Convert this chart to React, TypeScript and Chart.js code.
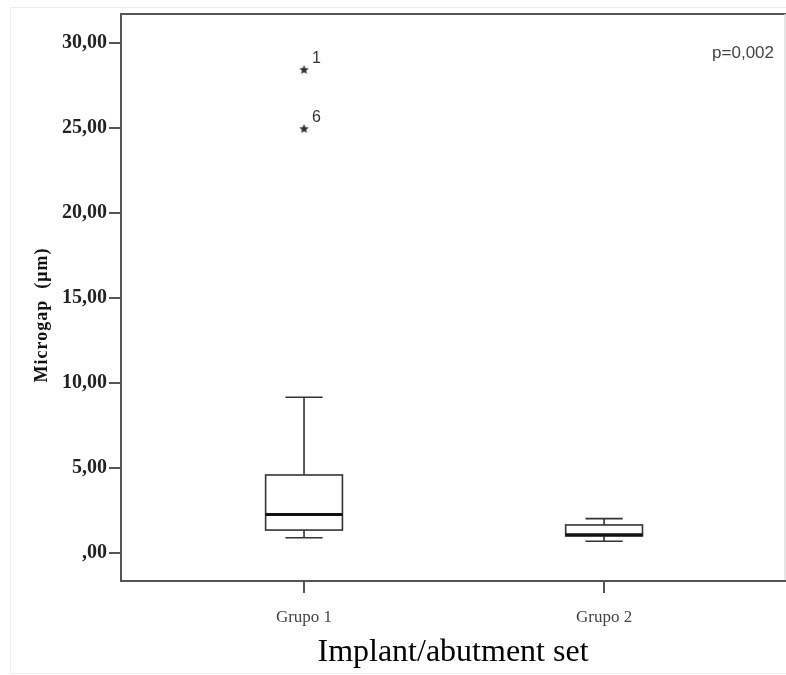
import React, { useEffect, useRef } from "react";
import { Chart, registerables } from "chart.js";

Chart.register(...registerables);

// ---- Data ----
const categories = ["Grupo 1", "Grupo 2"];
const whiskerLow = [0.9, 0.69];
const quartile1 = [1.35, 1.0];
const medians = [2.27, 1.08];
const quartile3 = [4.59, 1.65];
const whiskerHigh = [9.16, 2.02];
const outlierGroup = [1, 1];
const outlierValues = [28.45, 24.98];
const outlierLabels = ["1", "6"];
const yTickValues = [0, 5, 10, 15, 20, 25, 30];
const yTitle = "Microgap  (\u03bcm)";
const xTitle = "Implant/abutment set";
const pValueText = "p=0,002";

// ---- Styles ----
const SERIF = '"Liberation Serif", "Times New Roman", serif';
const SANS = '"Liberation Sans", Arial, sans-serif';
const BOX_HALF = 0.128;
const CAP_HALF = 0.062;

function fmtTick(v: number): string {
  if (v === 0) return ",00";
  return v.toFixed(2).replace(".", ",");
}

export default function App() {
  const ref = useRef<HTMLCanvasElement>(null);

  useEffect(() => {
    const canvas = ref.current;
    if (!canvas) return;

    // filled star marker
    const star = document.createElement("canvas");
    star.width = 11;
    star.height = 11;
    const sc = star.getContext("2d")!;
    sc.fillStyle = "#333";
    sc.beginPath();
    for (let i = 0; i < 10; i++) {
      const r = i % 2 === 0 ? 5 : 2.3;
      const a = -Math.PI / 2 + (i * Math.PI) / 5;
      const px = 5.5 + r * Math.cos(a);
      const py = 6 + r * Math.sin(a);
      if (i === 0) sc.moveTo(px, py);
      else sc.lineTo(px, py);
    }
    sc.closePath();
    sc.fill();

    const framePlugin = {
      id: "frame",
      beforeDraw(chart: any) {
        const { ctx, chartArea } = chart;
        ctx.save();
        // faint outer border
        ctx.strokeStyle = "#ececec";
        ctx.lineWidth = 1;
        ctx.beginPath();
        ctx.moveTo(786, 7.5);
        ctx.lineTo(10.5, 7.5);
        ctx.lineTo(10.5, 673.5);
        ctx.lineTo(786, 673.5);
        ctx.stroke();
        // plot frame top and right
        ctx.strokeStyle = "#555";
        ctx.lineWidth = 2;
        ctx.beginPath();
        ctx.moveTo(chartArea.left, chartArea.top);
        ctx.lineTo(786, chartArea.top);
        ctx.stroke();
        ctx.strokeStyle = "#dcdcdc";
        ctx.lineWidth = 1.5;
        ctx.beginPath();
        ctx.moveTo(chartArea.right, chartArea.top);
        ctx.lineTo(chartArea.right, chartArea.bottom);
        ctx.stroke();
        ctx.restore();
      },
    };

    const boxPlugin = {
      id: "boxes",
      afterDatasetsDraw(chart: any) {
        const { ctx, chartArea } = chart;
        const xs = chart.scales.x;
        const ys = chart.scales.y;
        ctx.save();
        categories.forEach((_, i) => {
          const c = i + 1;
          const cx = xs.getPixelForValue(c);
          const bl = xs.getPixelForValue(c - BOX_HALF);
          const br = xs.getPixelForValue(c + BOX_HALF);
          const cl = xs.getPixelForValue(c - CAP_HALF);
          const cr = xs.getPixelForValue(c + CAP_HALF);
          const yLo = ys.getPixelForValue(whiskerLow[i]);
          const yQ1 = ys.getPixelForValue(quartile1[i]);
          const yMed = ys.getPixelForValue(medians[i]);
          const yQ3 = ys.getPixelForValue(quartile3[i]);
          const yHi = ys.getPixelForValue(whiskerHigh[i]);
          ctx.strokeStyle = "#333";
          ctx.lineWidth = 1.6;
          ctx.beginPath();
          ctx.moveTo(cx, yHi);
          ctx.lineTo(cx, yQ3);
          ctx.moveTo(cx, yQ1);
          ctx.lineTo(cx, yLo);
          ctx.moveTo(cl, yHi);
          ctx.lineTo(cr, yHi);
          ctx.moveTo(cl, yLo);
          ctx.lineTo(cr, yLo);
          ctx.stroke();
          ctx.fillStyle = "#fff";
          ctx.fillRect(bl, yQ3, br - bl, yQ1 - yQ3);
          ctx.strokeRect(bl, yQ3, br - bl, yQ1 - yQ3);
          ctx.strokeStyle = "#111";
          ctx.lineWidth = 3;
          ctx.beginPath();
          ctx.moveTo(bl, yMed);
          ctx.lineTo(br, yMed);
          ctx.stroke();
        });

        // outlier labels
        const meta = chart.getDatasetMeta(0);
        ctx.fillStyle = "#333";
        ctx.font = `16px ${SANS}`;
        ctx.textAlign = "left";
        ctx.textBaseline = "middle";
        meta.data.forEach((pt: any, j: number) => {
          ctx.fillText(outlierLabels[j], pt.x + 8, pt.y - 11);
        });

        // p-value
        ctx.fillStyle = "#444";
        ctx.font = `17px ${SANS}`;
        ctx.textAlign = "right";
        ctx.fillText(pValueText, chartArea.right - 11, chartArea.top + 39);

        // y title
        ctx.save();
        ctx.translate(42, 315);
        ctx.rotate(-Math.PI / 2);
        ctx.fillStyle = "#111";
        ctx.font = `bold 18px ${SERIF}`;
        (ctx as any).letterSpacing = "1px";
        ctx.textAlign = "center";
        ctx.textBaseline = "middle";
        ctx.fillText(yTitle, 0, 0);
        ctx.restore();

        ctx.restore();
      },
    };

    const chart = new Chart(canvas, {
      type: "scatter",
      data: {
        datasets: [
          {
            data: outlierValues.map((v, j) => ({ x: outlierGroup[j], y: v })),
            pointStyle: star as any,
            pointRadius: 5,
            showLine: false,
          },
        ],
      },
      options: {
        responsive: false,
        animation: false,
        layout: { autoPadding: false, padding: { top: 14, right: 1, bottom: 0, left: 0 } },
        plugins: {
          legend: { display: false },
          tooltip: { enabled: false },
        },
        scales: {
          x: {
            type: "linear",
            min: 0.39,
            max: 2.603,
            afterBuildTicks: (s: any) => {
              s.ticks = categories.map((_, i) => ({ value: i + 1 }));
            },
            afterFit: (s: any) => {
              s.height = 94;
              s.paddingLeft = 0;
              s.paddingRight = 0;
            },
            ticks: {
              callback: (v: any) => categories[Math.round(v) - 1] ?? "",
              font: { family: SERIF, size: 17 },
              color: "#444",
              padding: 14,
              maxRotation: 0,
              autoSkip: false,
            },
            grid: {
              drawOnChartArea: false,
              drawTicks: true,
              tickLength: 12,
              color: "#555",
              lineWidth: 2,
            },
            border: { display: true, color: "#555", width: 2 },
            title: {
              display: true,
              text: xTitle,
              font: { family: SERIF, size: 32 },
              color: "#000",
              padding: { top: 0, bottom: 3 },
            },
          },
          y: {
            type: "linear",
            min: -1.647,
            max: 31.71,
            afterBuildTicks: (s: any) => {
              s.ticks = yTickValues.map((v) => ({ value: v }));
            },
            afterFit: (s: any) => {
              s.width = 121;
              s.paddingTop = 0;
              s.paddingBottom = 0;
            },
            ticks: {
              callback: (v: any) => fmtTick(Number(v)),
              font: { family: SERIF, size: 20, weight: "bold" },
              color: "#222",
              padding: 2,
            },
            grid: {
              drawOnChartArea: false,
              drawTicks: true,
              tickLength: 12,
              color: "#555",
              lineWidth: 2,
            },
            border: { display: true, color: "#555", width: 2 },
          },
        },
      },
      plugins: [framePlugin, boxPlugin],
    });

    return () => chart.destroy();
  }, []);

  return (
    <div style={{ position: "absolute", left: 0, top: 0, width: 786, height: 675, background: "#fff" }}>
      <canvas ref={ref} width={786} height={675} style={{ display: "block" }} />
    </div>
  );
}
